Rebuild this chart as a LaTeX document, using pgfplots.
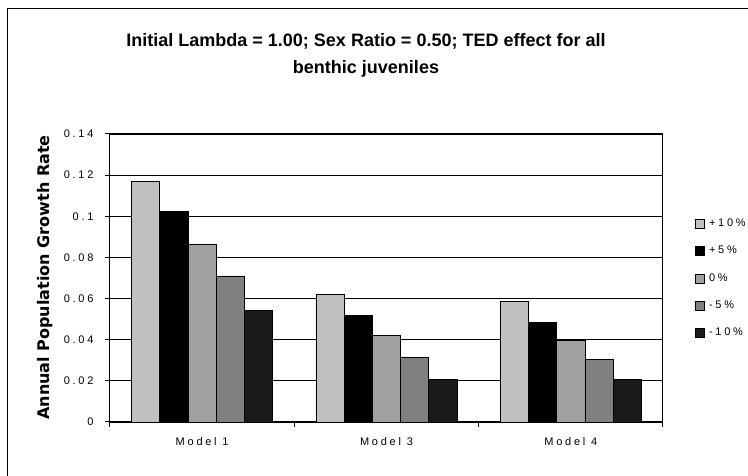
\documentclass[border=0pt]{standalone}
\usepackage{pgfplots}
\pgfplotsset{compat=1.18}
\usepackage{fontspec}
\setmainfont{Liberation Sans}
\newfontfamily\spaced[LetterSpace=25]{Liberation Sans}
\newfontfamily\heavy{DejaVu Sans}
\definecolor{cA}{HTML}{C0C0C0}
\definecolor{cB}{HTML}{000000}
\definecolor{cC}{HTML}{A0A0A0}
\definecolor{cD}{HTML}{808080}
\definecolor{cE}{HTML}{1A1A1A}
\begin{document}
\begin{tikzpicture}[x=1pt,y=1pt]
\useasboundingbox (0,0) rectangle (748,476);
\draw[line width=1pt] (7,0) -- (7,467) -- (748,467);
\node[font=\bfseries\fontsize{18}{20}\selectfont, anchor=base] at (366,429.3) {Initial Lambda = 1.00; Sex Ratio = 0.50; TED effect for all};
\node[font=\bfseries\fontsize{18}{20}\selectfont, anchor=base] at (366,402) {benthic juveniles};
\node[rotate=90, font=\heavy\bfseries\fontsize{16}{18}\selectfont] at (45,198.5) {Annual Population Growth Rate};
\begin{axis}[
    at={(110pt,54pt)}, anchor=south west,
    scale only axis, width=553pt, height=288pt,
    ybar=0pt, bar width=28.2pt,
    xmin=-0.5, xmax=2.5, ymin=0, ymax=0.14,
    xtick={-0.5,0.5,1.5,2.5}, xticklabels={Model 1, Model 3, Model 4},
    x tick label as interval=true,
    ytick={0,0.02,0.04,0.06,0.08,0.1,0.12,0.14},
    xtick pos=bottom, ytick pos=left, tick align=outside,
    major tick length=5pt,
    tick style={black, line width=1pt},
    ymajorgrids, grid style={black, line width=0.8pt},
    axis line style={black, line width=1pt},
    scaled y ticks=false,
    /pgf/number format/assume math mode=true,
    yticklabel style={/pgf/number format/fixed, /pgf/number format/precision=2,
        font=\spaced\fontsize{11}{13}\selectfont, xshift=-8pt},
    xticklabel style={font=\spaced\fontsize{11}{13}\selectfont, yshift=-7pt},
    legend style={draw=none, fill=none, at={(1,0.5)}, anchor=west, xshift=29pt,
        row sep=16pt, font=\spaced\fontsize{11}{13}\selectfont,
        nodes={inner sep=1pt}},
    legend cell align=left,
    every axis plot post/.append style={
        legend image code/.code={\draw[##1, line width=0.8pt] (0pt,-5pt) rectangle (9pt,4pt);
            \path (12pt,0pt);}},
]
\addplot[fill=cA, draw=black, line width=0.8pt] coordinates {(0,0.1168) (1,0.0622) (2,0.0585)};
\addplot[fill=cB, draw=black, line width=0.8pt] coordinates {(0,0.1022) (1,0.0517) (2,0.0485)};
\addplot[fill=cC, draw=black, line width=0.8pt] coordinates {(0,0.0864) (1,0.0420) (2,0.0397)};
\addplot[fill=cD, draw=black, line width=0.8pt] coordinates {(0,0.0710) (1,0.0313) (2,0.0303)};
\addplot[fill=cE, draw=black, line width=0.8pt] coordinates {(0,0.0544) (1,0.0205) (2,0.0205)};
\legend{+10\%, +5\%, 0\%, -5\%, -10\%}
\end{axis}
\end{tikzpicture}
\end{document}
